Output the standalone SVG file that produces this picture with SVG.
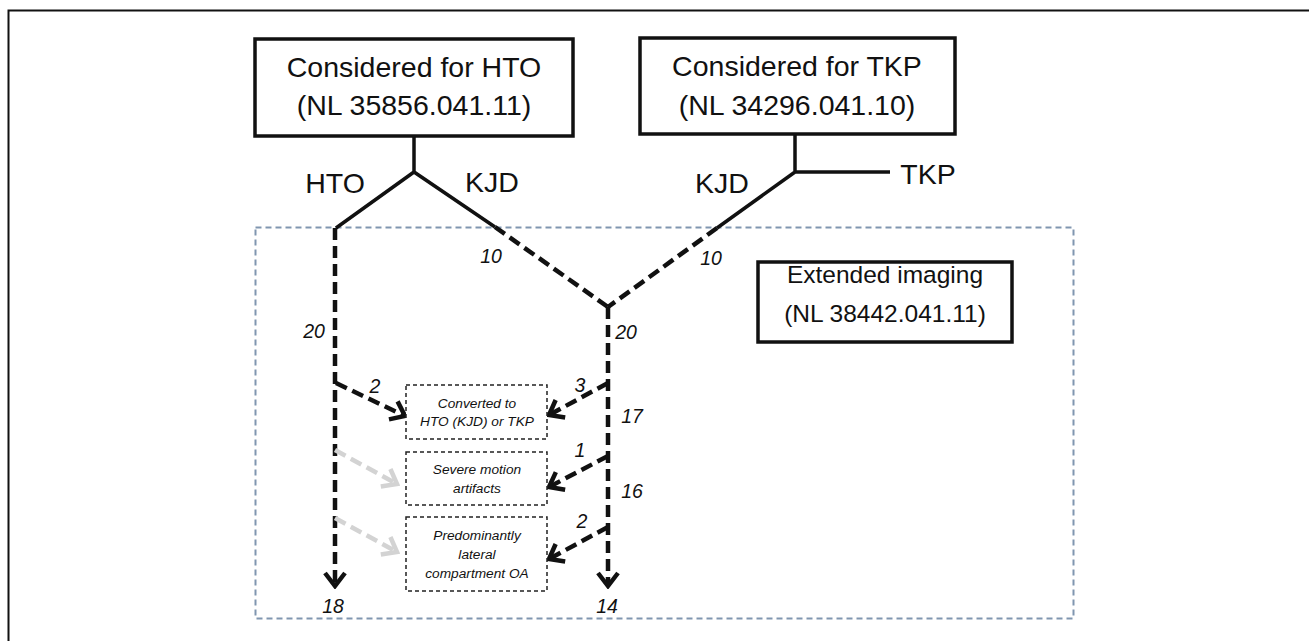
<svg xmlns="http://www.w3.org/2000/svg" width="1309" height="641" viewBox="0 0 1309 641">
<style>
.box{fill:#fff;stroke:#111;stroke-width:3.5}
.big{font-family:"Liberation Sans",Arial,sans-serif;font-size:28.5px;fill:#111;text-anchor:middle}
.mid{font-family:"Liberation Sans",Arial,sans-serif;font-size:24.5px;fill:#111;text-anchor:middle}
.num{font-family:"Liberation Sans",Arial,sans-serif;font-size:19.5px;font-style:italic;fill:#111;text-anchor:middle}
.small{font-family:"Liberation Sans",Arial,sans-serif;font-size:13.7px;font-style:italic;fill:#111;text-anchor:middle}
.solid{fill:none;stroke:#111;stroke-width:3.5}
.dash{fill:none;stroke:#111;stroke-width:4.5;stroke-dasharray:12 6}
.gdash{fill:none;stroke:#d3d3d3;stroke-width:4.5;stroke-dasharray:12 6}
.sbox{fill:#fff;stroke:#222;stroke-width:1.5;stroke-dasharray:4 3}
</style>
<defs>
<marker id="ah" markerUnits="userSpaceOnUse" viewBox="0 0 18 24" refX="15" refY="12" markerWidth="18" markerHeight="24" orient="auto">
<path d="M2,2 L15,12 L2,22" fill="none" stroke="#111" stroke-width="4.5" stroke-dasharray="none"/>
</marker>
<marker id="ahg" markerUnits="userSpaceOnUse" viewBox="0 0 18 24" refX="15" refY="12" markerWidth="18" markerHeight="24" orient="auto">
<path d="M2,2 L15,12 L2,22" fill="none" stroke="#d3d3d3" stroke-width="4.5" stroke-dasharray="none"/>
</marker>
</defs>
<rect width="1309" height="641" fill="#fff"/>
<path d="M1309,10.5 H8.5 V641" fill="none" stroke="#111" stroke-width="2"/>

<g id="extended-region">
<rect x="255.5" y="227.5" width="818" height="391" fill="none" stroke="#8096b0" stroke-width="2" stroke-dasharray="6 4"/>
</g>

<g id="connectors">
<path class="solid" d="M414,136 V172 M336,228 L414,172 L495,227"/>
<path class="dash" d="M495,227 L608,307"/>
<path class="solid" d="M795,134 V172 H890 M795,172 L717,228"/>
<path class="dash" d="M717,228 L608,307"/>
<path class="dash" d="M335,228 V586" marker-end="url(#ah)"/>
<path class="dash" d="M608,307 V586" marker-end="url(#ah)"/>
<path class="dash" d="M336,383 L405,416" marker-end="url(#ah)"/>
<path class="dash" d="M608,383 L549,415" marker-end="url(#ah)"/>
<path class="dash" d="M608,456 L549,487" marker-end="url(#ah)"/>
<path class="dash" d="M608,527 L549,559" marker-end="url(#ah)"/>
<path class="gdash" d="M335,450 L397,484" marker-end="url(#ahg)"/>
<path class="gdash" d="M335,518 L397,552" marker-end="url(#ahg)"/>
</g>

<g id="hto-box">
<rect class="box" x="255" y="39" width="318" height="97"/>
<text class="big" x="414" y="77">Considered for HTO</text>
<text class="big" x="414" y="115">(NL 35856.041.11)</text>
</g>
<g id="tkp-box">
<rect class="box" x="640" y="38" width="315" height="96"/>
<text class="big" x="797" y="76">Considered for TKP</text>
<text class="big" x="797" y="115">(NL 34296.041.10)</text>
</g>
<g id="extended-box">
<rect class="box" x="758" y="262" width="254" height="80"/>
<text class="mid" x="885" y="283">Extended imaging</text>
<text class="mid" x="885" y="322">(NL 38442.041.11)</text>
</g>

<g id="branch-labels">
<text class="big" x="335" y="193">HTO</text>
<text class="big" x="492" y="192">KJD</text>
<text class="big" x="722" y="193">KJD</text>
<text class="big" x="928" y="184">TKP</text>
</g>

<g id="counts">
<text class="num" x="491" y="263">10</text>
<text class="num" x="711" y="265">10</text>
<text class="num" x="314" y="338">20</text>
<text class="num" x="626" y="339">20</text>
<text class="num" x="375" y="393">2</text>
<text class="num" x="580" y="392">3</text>
<text class="num" x="632" y="423">17</text>
<text class="num" x="580" y="457">1</text>
<text class="num" x="632" y="498">16</text>
<text class="num" x="582" y="528">2</text>
<text class="num" x="333" y="613">18</text>
<text class="num" x="607" y="613">14</text>
</g>

<g id="converted-box">
<rect class="sbox" x="406" y="385" width="141" height="54"/>
<text class="small" x="477" y="408">Converted to</text>
<text class="small" x="477" y="426">HTO (KJD) or TKP</text>
</g>
<g id="motion-box">
<rect class="sbox" x="406" y="452" width="141" height="53"/>
<text class="small" x="477" y="474">Severe motion</text>
<text class="small" x="477" y="493">artifacts</text>
</g>
<g id="lateral-box">
<rect class="sbox" x="406" y="517" width="141" height="74"/>
<text class="small" x="477" y="540">Predominantly</text>
<text class="small" x="477" y="559">lateral</text>
<text class="small" x="477" y="578">compartment OA</text>
</g>
</svg>
